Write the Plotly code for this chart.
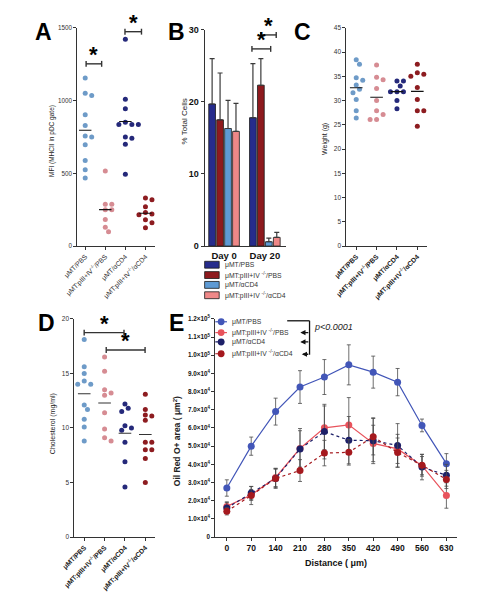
import plotly.graph_objects as go

W, H = 490, 601
FONT = "Arial, Liberation Sans, Helvetica, sans-serif"

# ---------------- data ----------------
group_labels = ["μMT/PBS", "μMT:pIII+IV<sup>-/-</sup>/PBS", "μMT/αCD4", "μMT:pIII+IV<sup>-/-</sup>/αCD4"]
legend_labels = ["μMT/PBS", "μMT:pIII+IV <sup>-/-</sup>/PBS", "μMT/αCD4", "μMT:pIII+IV <sup>-/-</sup>/αCD4"]

# Panel A: MFI (MHCII in pDC gate)
a_g1 = [1155, 1050, 1034, 903, 829, 757, 750, 696, 588, 525, 468]
a_g2 = [516, 288, 288, 250, 250, 182, 130, 99]
a_g3 = [1421, 1009, 944, 851, 836, 836, 836, 750, 741, 700, 493]
a_g4 = [330, 318, 270, 230, 220, 215, 205, 180, 160, 125]

# Panel B: % total cells
b_days = ["Day 0", "Day 20"]
b_g1 = [19.7, 17.8]
b_g2 = [17.5, 22.3]
b_g3 = [16.3, 0.6]
b_g4 = [15.9, 1.2]
b_e1 = [6.3, 7.5]
b_e2 = [6.5, 3.7]
b_e3 = [3.9, 0.5]
b_e4 = [3.9, 0.7]

# Panel C: Weight (g)
c_g1 = [38.4, 37.5, 34.7, 34.2, 33.2, 32.3, 31.6, 30.2, 27.9, 26.4]
c_g2 = [37.3, 34.8, 34.3, 32.5, 30.0, 27.9, 27.1, 26.1, 26.1]
c_g3 = [34.0, 34.0, 33.0, 31.8, 31.8, 31.8, 30.0, 28.3]
c_g4 = [37.5, 35.7, 35.4, 35.0, 32.7, 30.2, 27.9, 27.9, 24.7]

# Panel D: Cholesterol (mg/ml)
d_g1 = [18.1, 15.6, 15.0, 14.3, 14.0, 14.0, 12.1, 11.7, 10.8, 10.1, 8.8]
d_g2 = [16.5, 15.2, 13.5, 13.2, 13.0, 11.4, 9.9, 9.1, 8.8]
d_g3 = [12.2, 11.8, 11.5, 10.2, 10.0, 9.8, 8.7, 6.9, 4.6]
d_g4 = [13.1, 11.7, 11.2, 11.1, 10.7, 8.7, 8.7, 8.0, 8.0, 7.2, 5.0]

# Panel E: Oil Red O+ area vs distance
e_dist = [0, 70, 140, 210, 280, 350, 420, 490, 560, 630]
e_g1 = [27000, 50000, 69000, 82500, 88000, 94700, 90700, 85200, 61400, 40400]
e_g2 = [16900, 23200, 32800, 48700, 60100, 61700, 51500, 48500, 39300, 22900]
e_g3 = [16000, 24300, 32300, 48500, 58000, 53300, 53000, 50400, 38500, 34000]
e_g4 = [14200, 22900, 32300, 36600, 46200, 46600, 55200, 46500, 39500, 31700]
e_err1 = [4500, 5000, 7400, 9000, 9600, 11000, 8800, 7500, 3500, 5500]
e_err2 = [2500, 3000, 5000, 11000, 12000, 15000, 10000, 8000, 5000, 7000]
e_err3 = [3000, 3500, 5000, 10000, 15000, 13000, 12600, 12000, 7000, 6000]
e_err4 = [2000, 5000, 5500, 6000, 7000, 7000, 10000, 8000, 6000, 5000]
e_yticks = [0, 10000, 20000, 30000, 40000, 50000, 60000, 70000, 80000, 90000, 100000, 110000, 120000]
e_yticktext = ["0", "1.0×10<sup>4</sup>", "2.0×10<sup>4</sup>", "3.0×10<sup>4</sup>", "4.0×10<sup>4</sup>",
               "5.0×10<sup>4</sup>", "6.0×10<sup>4</sup>", "7.0×10<sup>4</sup>", "8.0×10<sup>4</sup>",
               "9.0×10<sup>4</sup>", "1.0×10<sup>5</sup>", "1.1×10<sup>5</sup>", "1.2×10<sup>5</sup>"]

# ---------------- styles ----------------
DOT_COLORS = ["#6e9bc8", "#d68c93", "#25297a", "#8d1c20"]
BAR_COLORS = ["#262c8c", "#8e1a1e", "#5e9ad4", "#ef8888"]
LINE_COLORS = ["#4256b8", "#e8535c", "#1d2068", "#a5191e"]
AXC = "#333333"


def px(x):
    return x / W


def py(y):
    return 1 - y / H


def swarm(vals, ypx, xpx, d=5.4):
    placed, offs = [], []
    for v in vals:
        yy = v * ypx
        o = 0.0
        for k in [0, 1, -1, 2, -2, 3, -3, 4, -4]:
            o = k * d * 0.62
            if all((o - po) ** 2 + (yy - pyy) ** 2 >= d * d for po, pyy in placed):
                break
        placed.append((o, yy))
        offs.append(o / xpx)
    return offs


fig = go.Figure()
shapes = []
annots = []


def axis_style(**kw):
    base = dict(showline=True, linecolor=AXC, linewidth=1.2, ticks="outside", ticklen=3,
                tickwidth=1, tickcolor=AXC, showgrid=False, zeroline=False,
                tickfont=dict(family=FONT, size=6.5, color="#222"))
    base.update(kw)
    return base


def dot_panel(groups, xa, ya, ypx, xpx, meancolor="#111"):
    for i, vals in enumerate(groups):
        offs = swarm(vals, ypx, xpx)
        fig.add_trace(go.Scatter(x=[i + o for o in offs], y=vals, mode="markers",
                                 marker=dict(size=5, color=DOT_COLORS[i]), xaxis=xa, yaxis=ya,
                                 showlegend=False, hoverinfo="y"))
        m = sum(vals) / len(vals)
        fig.add_trace(go.Scatter(x=[i - 0.31, i + 0.31], y=[m, m], mode="lines",
                                 line=dict(color=meancolor, width=1.1), xaxis=xa, yaxis=ya,
                                 showlegend=False, hoverinfo="skip"))


# Panel A (x/y)
dot_panel([a_g1, a_g2, a_g3, a_g4], "x", "y", 222 / 1500, 20.67)
# Panel C (x3/y3)
dot_panel([c_g1, c_g2, c_g3, c_g4], "x3", "y3", 222 / 45, 21.0)
# Panel D (x4/y4)
dot_panel([d_g1, d_g2, d_g3, d_g4], "x4", "y4", 222 / 20, 21.0, meancolor="#333")

# Panel B bars
for i, (vals, errs) in enumerate(zip([b_g1, b_g2, b_g3, b_g4], [b_e1, b_e2, b_e3, b_e4])):
    fig.add_trace(go.Bar(x=b_days, y=vals, marker=dict(color=BAR_COLORS[i], line=dict(color="#1a1a1a", width=0.8)),
                         error_y=dict(type="data", symmetric=False, array=errs, arrayminus=[0] * len(errs),
                                      color="#3a3a3a", thickness=1.2, width=2.5),
                         xaxis="x2", yaxis="y2", showlegend=False, name=legend_labels[i]))

# Panel E lines
for i, (vals, errs) in enumerate(zip([e_g1, e_g2, e_g3, e_g4], [e_err1, e_err2, e_err3, e_err4])):
    fig.add_trace(go.Scatter(x=e_dist, y=vals, mode="lines+markers",
                             line=dict(color=LINE_COLORS[i], width=1.2, dash="solid" if i < 2 else "dot"),
                             marker=dict(size=7, color=LINE_COLORS[i]),
                             error_y=dict(type="data", array=errs, color="#4a4a4a", thickness=0.8, width=2),
                             xaxis="x5", yaxis="y5", showlegend=False, name=legend_labels[i]))

cat_ticks = dict(tickmode="array", tickvals=[0, 1, 2, 3], ticktext=group_labels, tickangle=-45)

fig.update_layout(
    width=W, height=H, margin=dict(l=0, r=0, t=0, b=0),
    paper_bgcolor="white", plot_bgcolor="white",
    font=dict(family=FONT, color="#222"),
    barmode="group", bargap=0.22, bargroupgap=0.15,
    xaxis=axis_style(domain=[px(57), px(137)], range=[-0.39, 3.48], anchor="y",
                     tickfont=dict(family=FONT, size=6.8, color="#333"), **cat_ticks),
    yaxis=axis_style(domain=[py(237), py(15)], range=[0, 1500], tickvals=[0, 500, 1000, 1500], anchor="x",
                     tickfont=dict(family=FONT, size=6.3, color="#333")),
    xaxis2=axis_style(domain=[px(188), px(272)], range=[-0.476, 1.524], anchor="y2", ticks="",
                      tickfont=dict(family=FONT, size=9.5, color="#111", weight="bold")),
    yaxis2=axis_style(domain=[py(237), py(17)], range=[0, 30], tickvals=[0, 10, 20, 30], anchor="x2",
                      tickfont=dict(family=FONT, size=9, color="#111", weight="bold")),
    xaxis3=axis_style(domain=[px(334), px(417)], range=[-0.48, 3.48], anchor="y3",
                      tickfont=dict(family=FONT, size=6.8, color="#222", weight="bold"), **cat_ticks),
    yaxis3=axis_style(domain=[py(237), py(15)], range=[0, 45], tickvals=list(range(0, 50, 5)), anchor="x3",
                      tickfont=dict(family=FONT, size=6.5, color="#333")),
    xaxis4=axis_style(domain=[px(54), px(137)], range=[-0.48, 3.48], anchor="y4",
                      tickfont=dict(family=FONT, size=6.8, color="#222", weight="bold"), **cat_ticks),
    yaxis4=axis_style(domain=[py(533), py(311)], range=[0, 20], tickvals=[0, 5, 10, 15, 20], anchor="x4",
                      tickfont=dict(family=FONT, size=6.5, color="#333")),
    xaxis5=axis_style(domain=[px(199), px(448)], range=[-33, 661], anchor="y5", tickvals=e_dist,
                      tickfont=dict(family=FONT, size=8.5, color="#111", weight="bold")),
    yaxis5=axis_style(domain=[py(533), py(311)], range=[0, 120000], anchor="x5",
                      tickvals=e_yticks, ticktext=e_yticktext,
                      tickfont=dict(family=FONT, size=6.3, color="#111", weight="bold")),
)

# panel letters
for letter, (lx, ly) in {"A": (22, 19), "B": (159, 19), "C": (289, 19), "D": (25, 315), "E": (159, 315)}.items():
    annots.append(dict(text=letter, x=px(lx), y=py(ly), xref="paper", yref="paper", showarrow=False,
                       xanchor="center", yanchor="middle",
                       font=dict(family=FONT, size=23, color="#000", weight="bold")))

# y-axis titles
for txt, (tx, ty), size, bold in [("MFI (MHCII in pDC gate)", (31, 130), 6.5, False),
                                  ("% Total Cells", (167, 110), 8, False),
                                  ("Weight (g)", (312, 128), 7, False),
                                  ("Cholesterol (mg/ml)", (32, 418), 7, False),
                                  ("Oil Red O+ area ( μm<sup>2</sup>)", (160, 435), 8.5, True)]:
    annots.append(dict(text=txt, x=px(tx), y=py(ty), xref="paper", yref="paper", showarrow=False,
                       textangle=-90, xanchor="center", yanchor="middle",
                       font=dict(family=FONT, size=size, color="#222", weight="bold" if bold else "normal")))

annots.append(dict(text="Distance ( μm)", x=px(323), y=py(559), xref="paper", yref="paper", showarrow=False,
                   xanchor="center", yanchor="middle", font=dict(family=FONT, size=9, color="#111", weight="bold")))


def bracket(x0, x1, y, cap=3, star=True, w=1.4, sx=None):
    shapes.append(dict(type="line", xref="paper", yref="paper", x0=px(x0), x1=px(x1), y0=py(y), y1=py(y),
                       line=dict(color="#333", width=w)))
    for xx in (x0, x1):
        shapes.append(dict(type="line", xref="paper", yref="paper", x0=px(xx), x1=px(xx),
                           y0=py(y - cap), y1=py(y + cap), line=dict(color="#333", width=w)))
    if star:
        cx = (x0 + x1) / 2 if sx is None else sx
        annots.append(dict(text="*", x=px(cx), y=py(y - 24), xref="paper", yref="paper",
                           showarrow=False, xanchor="center", yanchor="top",
                           font=dict(family=FONT, size=22, color="#000", weight="bold")))


# significance brackets
bracket(66, 82, 51.7)
bracket(106, 123, 19)
bracket(236.7, 256, 36.5)
bracket(245.7, 261.7, 22.3)
bracket(64, 105, 325)
bracket(86.7, 126.7, 342.7)

# Panel B legend (manual)
for i, ry in enumerate([256, 266.5, 276.5, 287]):
    shapes.append(dict(type="rect", xref="paper", yref="paper", x0=px(188), x1=px(203),
                       y0=py(ry + 3.5), y1=py(ry - 3.5), fillcolor=BAR_COLORS[i],
                       line=dict(color="#1a1a1a", width=0.8)))
    annots.append(dict(text=legend_labels[i], x=px(207), y=py(ry), xref="paper", yref="paper",
                       showarrow=False, xanchor="left", yanchor="middle",
                       font=dict(family=FONT, size=6.8, color="#333")))

# Panel E legend (manual)
e_rows = [314, 325, 334.5, 346.5]
for i, ry in enumerate(e_rows):
    shapes.append(dict(type="line", xref="paper", yref="paper", x0=px(199), x1=px(211), y0=py(ry), y1=py(ry),
                       line=dict(color=LINE_COLORS[i], width=1.2, dash="solid" if i < 2 else "dot")))
    shapes.append(dict(type="circle", xref="paper", yref="paper", x0=px(201.5), x1=px(208.5),
                       y0=py(ry + 3.5), y1=py(ry - 3.5), fillcolor=LINE_COLORS[i], line=dict(width=0)))
    annots.append(dict(text=legend_labels[i], x=px(214), y=py(ry), xref="paper", yref="paper",
                       showarrow=False, xanchor="left", yanchor="middle",
                       font=dict(family=FONT, size=6.8, color="#333")))

# p-value bracket
shapes.append(dict(type="line", xref="paper", yref="paper", x0=px(273), x1=px(296), y0=py(313), y1=py(313),
                   line=dict(color="#111", width=1.3)))
shapes.append(dict(type="line", xref="paper", yref="paper", x0=px(296), x1=px(296), y0=py(313), y1=py(347.5),
                   line=dict(color="#111", width=1.3)))
for ry, hx in [(325, 286.5), (334.5, 286.5), (347, 288)]:
    annots.append(dict(text="", x=px(hx), y=py(ry), ax=296 - hx, ay=0, xref="paper", yref="paper",
                       axref="pixel", ayref="pixel", showarrow=True, arrowhead=2, arrowsize=0.8,
                       arrowwidth=1.3, arrowcolor="#111"))
annots.append(dict(text="<i>p<0.0001</i>", x=px(299), y=py(319), xref="paper", yref="paper", showarrow=False,
                   xanchor="left", yanchor="middle", font=dict(family=FONT, size=9, color="#222")))

fig.update_layout(shapes=shapes, annotations=annots)
fig.write_html("out.html")
